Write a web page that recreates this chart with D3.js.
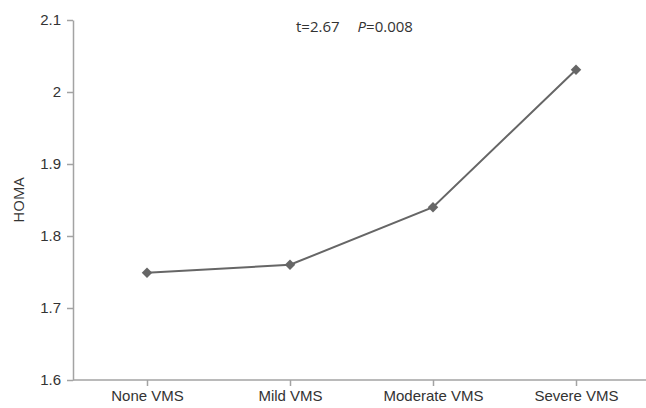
<!DOCTYPE html>
<html>
<head>
<meta charset="utf-8">
<script src="https://cdn.jsdelivr.net/npm/d3@7"></script>
<style>
  body { margin: 0; background: #fff; }
  svg { display: block; font-family: "Open Sans", sans-serif; }
</style>
</head>
<body>
<div id="chart"></div>
<script>
const categories = ['None VMS', 'Mild VMS', 'Moderate VMS', 'Severe VMS'];
const homa = [1.749, 1.76, 1.84, 2.031];
const yTicks = [1.6, 1.7, 1.8, 1.9, 2, 2.1];

const width = 646, height = 408;
const margin = { top: 20, right: 0, bottom: 28, left: 73 };
const fontSize = '15px';

const svg = d3.select('#chart').append('svg')
  .attr('width', width)
  .attr('height', height);

const x = d3.scalePoint()
  .domain(categories)
  .range([147, 576]);

const y = d3.scaleLinear()
  .domain([1.6, 2.1])
  .range([height - margin.bottom, margin.top]);

const axisColor = '#a3a3a3';
const textColor = '#333';

// y axis
const yAxis = svg.append('g')
  .attr('transform', `translate(${margin.left},0)`)
  .call(d3.axisLeft(y).tickValues(yTicks).tickFormat(d3.format('')).tickSize(6).tickSizeOuter(0).tickPadding(6));
yAxis.select('.domain').attr('stroke', axisColor).attr('stroke-width', 1.5);
yAxis.selectAll('.tick line').attr('stroke', axisColor).attr('stroke-width', 1.5);
yAxis.selectAll('.tick text').attr('fill', textColor).style('font-size', fontSize);

// x axis
const xAxis = svg.append('g')
  .attr('transform', `translate(0,${y(1.6)})`)
  .call(d3.axisBottom(x).tickSize(6).tickSizeOuter(0).tickPadding(4));
xAxis.select('.domain')
  .attr('d', `M${margin.left},0H${width}`)
  .attr('stroke', axisColor).attr('stroke-width', 1.5);
xAxis.selectAll('.tick line').attr('stroke', axisColor).attr('stroke-width', 1.5);
xAxis.selectAll('.tick text').attr('fill', textColor).style('font-size', fontSize);

// y label
svg.append('text')
  .attr('transform', `translate(24,${(y(1.6) + y(2.1)) / 2}) rotate(-90)`)
  .attr('text-anchor', 'middle')
  .attr('fill', textColor)
  .style('font-size', fontSize)
  .text('HOMA');

// annotation
const note = svg.append('text')
  .attr('x', 296)
  .attr('y', 32)
  .attr('fill', textColor)
  .style('font-size', fontSize);
note.append('tspan').text('t=2.67');
note.append('tspan').attr('dx', 18).style('font-style', 'italic').text('P');
note.append('tspan').text('=0.008');

// line
const line = d3.line()
  .x((d, i) => x(categories[i]))
  .y(d => y(d));

svg.append('path')
  .datum(homa)
  .attr('d', line)
  .attr('fill', 'none')
  .attr('stroke', '#666')
  .attr('stroke-width', 2);

// diamond markers
svg.selectAll('.marker')
  .data(homa)
  .enter()
  .append('path')
  .attr('class', 'marker')
  .attr('d', d3.symbol().type(d3.symbolDiamond2).size(70))
  .attr('transform', (d, i) => `translate(${x(categories[i])},${y(d)})`)
  .attr('fill', '#666');
</script>
</body>
</html>
